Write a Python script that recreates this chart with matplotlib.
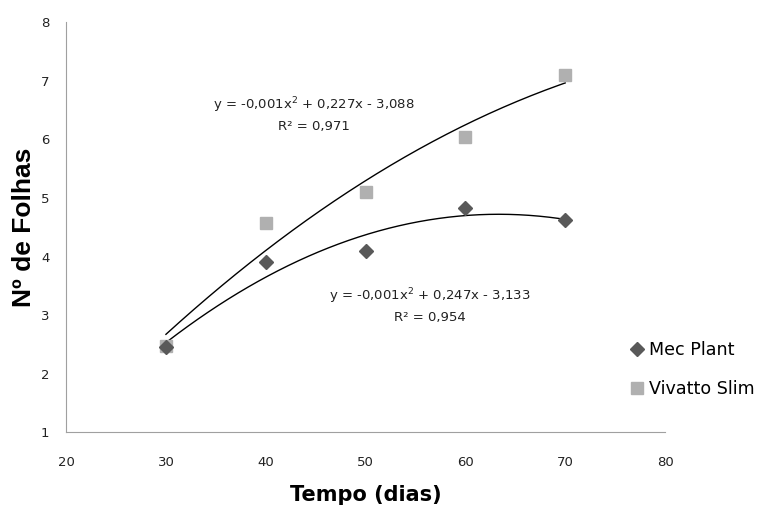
import numpy as np
import matplotlib
matplotlib.use("Agg")
import matplotlib.pyplot as plt

# dados
dias = [30, 40, 50, 60, 70]
mec_plant = [2.45, 3.90, 4.09, 4.82, 4.62]
vivatto_slim = [2.47, 4.57, 5.10, 6.04, 7.10]

eq_vivatto = "y = -0,001x$^2$ + 0,227x - 3,088\nR² = 0,971"
eq_mec = "y = -0,001x$^2$ + 0,247x - 3,133\nR² = 0,954"

fig = plt.figure(figsize=(7.6, 5.17), dpi=100)
ax = fig.add_axes([0.087, 0.164, 0.788, 0.793])

# linhas de tendencia polinomial (ordem 2)
xx = np.linspace(30, 70, 200)
for serie in (vivatto_slim, mec_plant):
    coef = np.polyfit(dias, serie, 2)
    ax.plot(xx, np.polyval(coef, xx), color="black", lw=1.0, zorder=2)

ax.plot(dias, vivatto_slim, ls="none", marker="s", ms=9, color="#b0b0b0",
        mec="#b0b0b0", label="Vivatto Slim", zorder=3)
ax.plot(dias, mec_plant, ls="none", marker="D", ms=7, color="#595959",
        mec="#595959", label="Mec Plant", zorder=4)

ax.text(44.8, 6.43, eq_vivatto, ha="center", va="center", fontsize=9.5,
        color="#222222", linespacing=1.5)
ax.text(56.4, 3.17, eq_mec, ha="center", va="center", fontsize=9.5,
        color="#222222", linespacing=1.5)

ax.set_xlim(20, 80)
ax.set_ylim(1, 8)
ax.set_xticks(range(20, 81, 10))
ax.set_yticks(range(1, 9))
for s in ("top", "right"):
    ax.spines[s].set_visible(False)
for s in ("left", "bottom"):
    ax.spines[s].set_color("#a0a0a0")
ax.tick_params(axis="both", length=0, labelsize=9.5, colors="#222222")
ax.tick_params(axis="x", pad=17)
ax.tick_params(axis="y", pad=12)

ax.set_xlabel("Tempo (dias)", fontsize=15, fontweight="bold", labelpad=12)
ax.set_ylabel("Nº de Folhas", fontsize=19, fontweight="bold",
              family="Liberation Sans")
ax.yaxis.set_label_coords(-0.05, 0.5)

h, l = ax.get_legend_handles_labels()
fig.legend(h[::-1], l[::-1], loc="center left", bbox_to_anchor=(0.806, 0.286),
           frameon=False, fontsize=12.6, handletextpad=0.2, handlelength=1.0,
           labelspacing=1.2)

fig.savefig("out.png", dpi=100)
